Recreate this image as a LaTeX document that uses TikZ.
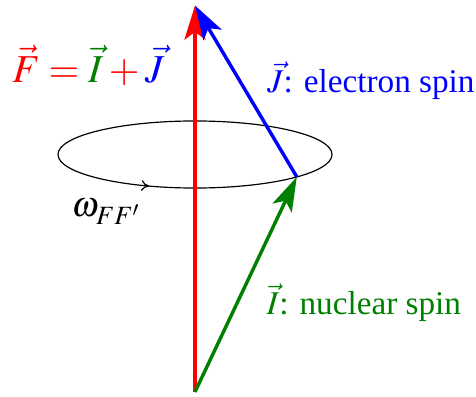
\documentclass[tikz,border=0pt]{standalone}
\usepackage{mathptmx}
\usepackage[no-math]{fontspec}
\setmainfont{Liberation Serif}
\usepackage{tikz}
\usetikzlibrary{calc}
\usetikzlibrary{arrows.meta}
\usetikzlibrary{decorations.markings}

\definecolor{spingreen}{RGB}{0,128,0}
\tikzset{
  spinvec/.style={line width=1.3pt, -{Stealth[length=13pt,width=8pt,inset=3pt]}},
  precess/.style={line width=0.45pt, postaction={decorate},
    decoration={markings, mark=at position 0.672 with {\arrow{To[length=3pt,width=4pt]}}}}
}

\begin{document}
\begin{tikzpicture}[font=\fontsize{12.6}{15}\selectfont]
            \useasboundingbox (0,0) rectangle (6.347,5.293);
            \coordinate (O) at (2.6,0.067);
            \coordinate (C) at (2.6,3.233);
            \coordinate (Ftip) at (2.6,5.22);
            \coordinate (Itip) at ($(C)+({1.827*cos(-42)},{0.447*sin(-42)})$);

            \draw[precess] (C) ellipse [x radius=1.827, y radius=0.447];

            \draw[spinvec, red] (O) -- (Ftip);
            \draw[spinvec, spingreen] (O) -- (Itip);
            \draw[spinvec, blue] (Itip) -- (Ftip);

            \node[red, font=\fontsize{15}{18}\selectfont] (Flabel) at (1.18,4.42)
                {$\vec{F} = {\color{spingreen}\vec{I}} + {\color{blue}\vec{J}}$};
            \node[blue, anchor=west] (Jlabel) at (3.44,4.22) {$\vec{J}$: electron spin};
            \node[spingreen, anchor=west] (Ilabel) at (3.43,1.26) {$\vec{I}$: nuclear spin};
            \node[font=\fontsize{13.5}{16}\selectfont] (omega) at (1.42,2.47) {$\omega_{FF'}$};
        \end{tikzpicture}
\end{document}
